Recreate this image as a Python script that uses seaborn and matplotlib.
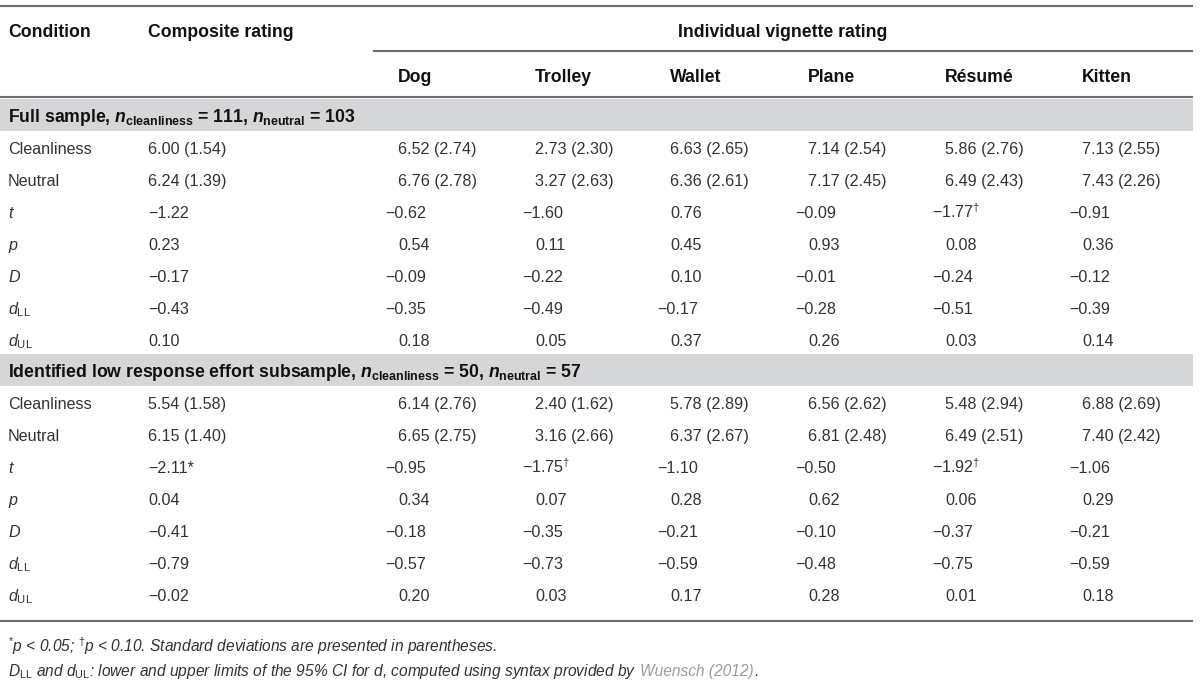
import matplotlib
matplotlib.use("Agg")
import matplotlib.pyplot as plt
from matplotlib.patches import Rectangle
import seaborn as sns

sns.set_theme(style="white")
plt.rcParams['font.family'] = ['Liberation Sans', 'DejaVu Sans']
plt.rcParams['mathtext.fontset'] = 'custom'
plt.rcParams['mathtext.rm'] = 'Liberation Sans'
plt.rcParams['mathtext.it'] = 'Liberation Sans:italic'
plt.rcParams['mathtext.bf'] = 'Liberation Sans:bold'
plt.rcParams['mathtext.bfit'] = 'Liberation Sans:bold:italic'

# ---- data ----
vignettes = ["Dog", "Trolley", "Wallet", "Plane", "Résumé", "Kitten"]
row_labels = ["Cleanliness", "Neutral", r"$t$", r"$p$", r"$D$",
              r"$d_{\mathrm{LL}}$", r"$d_{\mathrm{UL}}$"]

# first value = composite rating, then the six vignettes
clean_mean_full = [6.00, 6.52, 2.73, 6.63, 7.14, 5.86, 7.13]
clean_sd_full = [1.54, 2.74, 2.30, 2.65, 2.54, 2.76, 2.55]
neutral_mean_full = [6.24, 6.76, 3.27, 6.36, 7.17, 6.49, 7.43]
neutral_sd_full = [1.39, 2.78, 2.63, 2.61, 2.45, 2.43, 2.26]
t_full = [-1.22, -0.62, -1.60, 0.76, -0.09, -1.77, -0.91]
t_mark_full = ["", "", "", "", "", "dag", ""]
p_full = [0.23, 0.54, 0.11, 0.45, 0.93, 0.08, 0.36]
D_full = [-0.17, -0.09, -0.22, 0.10, -0.01, -0.24, -0.12]
dll_full = [-0.43, -0.35, -0.49, -0.17, -0.28, -0.51, -0.39]
dul_full = [0.10, 0.18, 0.05, 0.37, 0.26, 0.03, 0.14]

clean_mean_sub = [5.54, 6.14, 2.40, 5.78, 6.56, 5.48, 6.88]
clean_sd_sub = [1.58, 2.76, 1.62, 2.89, 2.62, 2.94, 2.69]
neutral_mean_sub = [6.15, 6.65, 3.16, 6.37, 6.81, 6.49, 7.40]
neutral_sd_sub = [1.40, 2.75, 2.66, 2.67, 2.48, 2.51, 2.42]
t_sub = [-2.11, -0.95, -1.75, -1.10, -0.50, -1.92, -1.06]
t_mark_sub = ["*", "", "dag", "", "", "dag", ""]
p_sub = [0.04, 0.34, 0.07, 0.28, 0.62, 0.06, 0.29]
D_sub = [-0.41, -0.18, -0.35, -0.21, -0.10, -0.37, -0.21]
dll_sub = [-0.79, -0.57, -0.73, -0.59, -0.48, -0.75, -0.59]
dul_sub = [-0.02, 0.20, 0.03, 0.17, 0.28, 0.01, 0.18]

band_full = r"Full sample, $\mathbfit{n}_{\mathbf{cleanliness}}$ = 111, $\mathbfit{n}_{\mathbf{neutral}}$ = 103"
band_sub = r"Identified low response effort subsample, $\mathbfit{n}_{\mathbf{cleanliness}}$ = 50, $\mathbfit{n}_{\mathbf{neutral}}$ = 57"


def fmt(v):
    return f"{v:.2f}".replace("-", "\u2212")


def block_rows(cm, cs, nm, ns, t, tm, p, D, dll, dul):
    rows = []
    rows.append([f"{fmt(a)} ({fmt(b)})" for a, b in zip(cm, cs)])
    rows.append([f"{fmt(a)} ({fmt(b)})" for a, b in zip(nm, ns)])
    trow = []
    for v, m in zip(t, tm):
        s = fmt(v)
        if m == "dag":
            s += r"$^{\dagger}$"
        elif m == "*":
            s += "*"
        trow.append(s)
    rows.append(trow)
    for vals in (p, D, dll, dul):
        rows.append([fmt(v) for v in vals])
    return rows


blocks = [
    (band_full, block_rows(clean_mean_full, clean_sd_full, neutral_mean_full, neutral_sd_full,
                           t_full, t_mark_full, p_full, D_full, dll_full, dul_full)),
    (band_sub, block_rows(clean_mean_sub, clean_sd_sub, neutral_mean_sub, neutral_sd_sub,
                          t_sub, t_mark_sub, p_sub, D_sub, dll_sub, dul_sub)),
]

# ---- layout (pixels) ----
W, H = 1200, 681
right = 1193
col_x = [148, 398, 535, 670, 808, 945, 1082]
hang = 13
row_step = 32
band_h = 32
band_tops = [99, 354]
line_col = "#6d6e71"
band_col = "#d5d6d8"
body_col = "#333333"
head_col = "#111111"
fs = 11.6
hfs = 12.7
base_off = 6

fig = plt.figure(figsize=(W / 100, H / 100), dpi=100)
ax = fig.add_axes([0, 0, 1, 1])
ax.set_xlim(0, W)
ax.set_ylim(H, 0)
ax.axis("off")

# header
ax.hlines(6, 0, right, color=line_col, lw=1.5)
ax.text(8, 31 + base_off, "Condition", fontsize=hfs, fontweight="bold", color=head_col, va="baseline")
ax.text(col_x[0], 31 + base_off, "Composite rating", fontsize=hfs, fontweight="bold",
        color=head_col, va="baseline")
ax.text((373 + right) / 2, 31 + base_off, "Individual vignette rating", fontsize=hfs,
        fontweight="bold", color=head_col, va="baseline", ha="center")
ax.hlines(51, 373, right, color=line_col, lw=1.5)
for x, name in zip(col_x[1:], vignettes):
    ax.text(x, 76 + base_off, name, fontsize=hfs, fontweight="bold", color=head_col, va="baseline")
ax.hlines(97, 0, right, color=line_col, lw=1.5)

for (band_text, rows), top in zip(blocks, band_tops):
    ax.add_patch(Rectangle((0, top), right, band_h, color=band_col, lw=0))
    ax.text(8, top + band_h / 2 + base_off + 1, band_text, fontsize=hfs, fontweight="bold",
            color=head_col, va="baseline")
    y0 = top + band_h + 17
    for i, (lab, vals) in enumerate(zip(row_labels, rows)):
        y = y0 + i * row_step + base_off
        ax.text(8, y, lab, fontsize=fs, color=body_col, va="baseline")
        for j, (x, s) in enumerate(zip(col_x, vals)):
            xx = x - hang if (j > 0 and s.startswith("\u2212")) else x
            ax.text(xx, y, s, fontsize=fs, color=body_col, va="baseline")

ax.hlines(621, 0, right, color=line_col, lw=1.5)

# footnotes
fn_fs = 11.2
ax.text(8, 652, r"$^{*}$$p$ < 0.05; $^{\dagger}$$p$ < 0.10. Standard deviations are presented in parentheses.",
        fontsize=fn_fs, style="italic", color=body_col, va="baseline")
t1 = ax.text(8, 676, r"$D_{\mathrm{LL}}$ and $d_{\mathrm{UL}}$: lower and upper limits of the 95% CI for $d$, computed using syntax provided by",
             fontsize=fn_fs, style="italic", color=body_col, va="baseline")
fig.canvas.draw()
r = fig.canvas.get_renderer()
bb = t1.get_window_extent(r)
x_end = ax.transData.inverted().transform((bb.x1, bb.y0))[0] + 4
t2 = ax.text(x_end, 676, "Wuensch (2012)", fontsize=fn_fs, style="italic", color="#9a9b9d", va="baseline")
bb2 = t2.get_window_extent(r)
x_end2 = ax.transData.inverted().transform((bb2.x1, bb2.y0))[0]
ax.text(x_end2, 676, ".", fontsize=fn_fs, style="italic", color=body_col, va="baseline")

fig.savefig("out.png", dpi=100, facecolor="white")
